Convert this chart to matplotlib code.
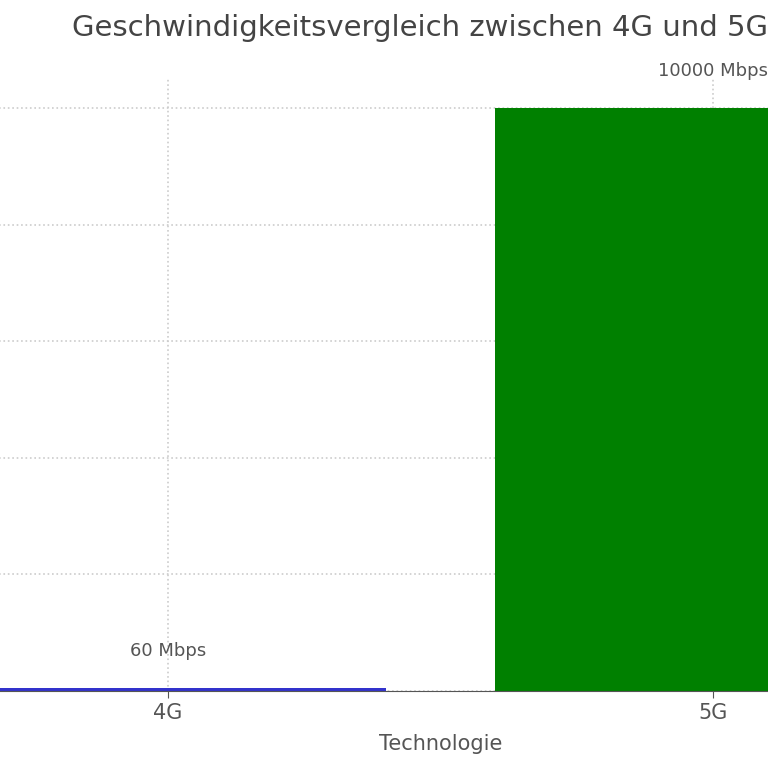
import matplotlib
matplotlib.use('Agg')
from matplotlib import pyplot as plt

technologies = ['4G', '5G']
speeds = [60, 10000]
bar_colors = ['#3333cc', 'green']
value_labels = ['60 Mbps', '10000 Mbps']

fig = plt.figure(figsize=(7.68, 7.68), dpi=100)
W = H = 768.0
# axes deliberately extends past the canvas (reference is a crop)
left, right = -104.5, 985.5
bottom, top = 691.0, 79.0
ax = fig.add_axes([left / W, (H - bottom) / H, (right - left) / W, (bottom - top) / H])

ax.bar(range(len(technologies)), speeds, width=0.8, color=bar_colors)
ax.set_xlim(-0.5, 1.5)
ax.set_ylim(0, 10500)
ax.set_xticks(range(len(technologies)))
ax.set_xticklabels(technologies)
ax.set_yticks(range(0, 10001, 2000))
ax.tick_params(axis='y', labelleft=False, length=0)
ax.grid(True, linestyle=':', color='#cccccc', linewidth=1.2)
ax.set_axisbelow(True)
for s in ['left', 'right', 'top']:
    ax.spines[s].set_visible(False)
ax.spines['bottom'].set_color('#555555')
ax.tick_params(axis='x', colors='#555555', labelsize=15, length=5)
ax.set_xlabel('Technologie', color='#555555', fontsize=15, labelpad=8)

fig.text(72 / W, 1 - 28 / H, 'Geschwindigkeitsvergleich zwischen 4G und 5G',
         color='#444444', fontsize=21, ha='left', va='center')

for i, (v, lab) in enumerate(zip(speeds, value_labels)):
    ax.annotate(lab, (i, v), xytext=(0, 28), textcoords='offset pixels',
                ha='center', va='bottom', color='#555555', fontsize=13)

fig.savefig('out.png', dpi=100)
